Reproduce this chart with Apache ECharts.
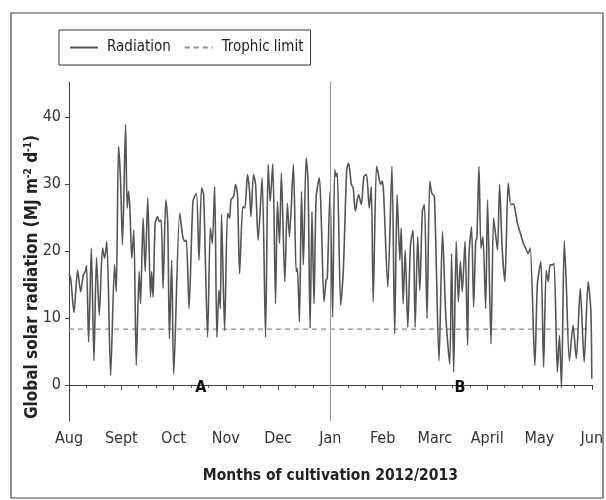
<!DOCTYPE html>
<html>
<head>
<meta charset="utf-8">
<script src="https://cdn.jsdelivr.net/npm/echarts@6/dist/echarts.min.js"></script>
<style>
  html, body { margin: 0; padding: 0; background: #fff; }
  #chart { width: 606px; height: 500px; }
</style>
</head>
<body>
<div id="chart"></div>
<script>
const months = ['Aug', 'Sept', 'Oct', 'Nov', 'Dec', 'Jan', 'Feb', 'Marc', 'April', 'May', 'Jun']
const daysPerMonth = 30.4
const lastDay = 304

// day since 1 Aug 2012 at each turning point
const days = [
  0, 1, 2.9, 5, 6.8, 8.3, 9.5, 10.2, 11.4, 13,
  14.5, 16, 17.6, 19.5, 20.7, 22, 24.2, 26.5, 27.5, 28.8,
  30, 31.1, 32.9, 33.8, 34.6, 35.4, 36.5, 37.7, 39.1, 40.8,
  41.6, 43.1, 44.3, 45.8, 47.4, 48.1, 48.9, 50.1, 51.6, 52.4,
  53.6, 54.7, 56.3, 57.4, 58.4, 59.7, 60.9, 64.4, 66.3, 67.5,
  68.3, 69.8, 72.1, 74.1, 75.6, 77.1, 78.3, 80.6, 82.2, 83.3,
  84.7, 86, 87.2, 88, 88.7, 90.5, 92.2, 93.4, 94.2, 95.7,
  96.9, 98, 99.2, 101.1, 102.3, 103.8, 105, 105.8, 107.3, 108.5,
  110, 112.3, 114.3, 115.8, 117, 118.5, 120.1, 121.2, 122.4, 123.5,
  125.5, 127, 128.2, 130.5, 132.1, 132.8, 134, 135.2, 136.3, 137.9,
  139, 140.2, 141.3, 142.5, 143.7, 145.6, 146.8, 148.3, 149.5, 150.2,
  151.8, 153.3, 154.5, 155.3, 156, 158, 159.5, 161.5, 162.6, 164.2,
  165.3, 166.5, 168.4, 170, 171.5, 173, 174.6, 175.8, 176.9, 178.8,
  179.8, 181.2, 182.2, 183, 185.4, 187.8, 189.4, 190.8, 192.4, 193.2,
  194.3, 195.5, 197, 198.6, 200.1, 201.3, 202.8, 204, 205.5, 206.7,
  208.2, 209.8, 211, 212.5, 215.2, 217.2, 219.1, 221.4, 222.5, 223.7,
  225.2, 226.4, 227.6, 228.7, 230.3, 231.8, 232.6, 234.1, 235.3, 236.5,
  237.2, 238.4, 239.6, 240.7, 242.3, 243.4, 245.4, 246.9, 248.1, 249.2,
  250.4, 251.9, 253.5, 255.4, 257, 258.5, 259.5, 260.8, 262.5, 264.3,
  265.5, 267, 268.2, 270.9, 272.4, 274.4, 276, 277.5, 278.7, 279.8,
  281, 282.1, 284, 285.2, 286.4, 288, 289.1, 291, 293.1, 295,
  297.3, 299.6, 301.9, 303.5, 304,
]

// MJ m-2 d-1
const radiation = [
  16.6, 15.8, 10.8, 17.1, 13.9, 16.4, 16.9, 17.8, 6.4, 20.4,
  3.6, 19.0, 10.4, 20.4, 18.9, 21.4, 1.4, 17.9, 13.9, 35.6,
  30.4, 20.9, 38.9, 26.4, 28.9, 26.4, 18.9, 23.1, 2.9, 16.9,
  12.1, 24.9, 16.9, 27.9, 13.1, 16.9, 13.1, 24.1, 25.1, 24.4,
  24.6, 14.4, 27.6, 24.4, 6.9, 18.6, 1.6, 25.6, 21.9, 21.4,
  21.6, 11.4, 27.4, 28.6, 18.6, 29.4, 28.4, 7.1, 23.4, 21.1,
  29.6, 7.1, 14.1, 11.4, 25.4, 8.1, 25.6, 24.9, 27.6, 28.1,
  29.9, 28.4, 16.6, 26.6, 26.4, 31.4, 28.9, 25.1, 31.4, 29.9,
  21.6, 30.9, 7.1, 32.9, 27.4, 33.0, 12.1, 27.4, 21.1, 31.6,
  15.4, 27.1, 22.1, 32.9, 16.9, 17.4, 9.4, 28.9, 17.9, 33.9,
  30.4, 8.4, 25.9, 12.1, 27.9, 30.9, 23.9, 12.4, 15.6, 15.9,
  28.9, 10.1, 32.1, 31.1, 31.6, 11.9, 16.9, 32.1, 33.1, 29.9,
  29.4, 25.9, 28.4, 26.9, 31.1, 31.4, 26.4, 29.6, 12.4, 32.6,
  31.6, 29.9, 30.4, 28.4, 14.6, 32.6, 7.6, 28.4, 18.6, 23.4,
  12.1, 20.1, 8.6, 20.9, 23.1, 8.6, 22.1, 14.1, 25.9, 26.9,
  9.9, 30.4, 28.6, 28.1, 3.6, 22.9, 10.4, 3.1, 19.6, 1.9,
  21.4, 12.4, 18.4, 13.9, 21.4, 5.9, 19.4, 23.6, 11.6, 21.4,
  21.9, 32.6, 20.4, 22.1, 11.4, 27.6, 6.1, 24.9, 22.4, 20.1,
  29.9, 20.4, 15.4, 30.1, 26.9, 27.0, 26.0, 24.1, 22.6, 21.1,
  20.4, 19.6, 20.4, 2.9, 15.1, 18.4, 2.6, 17.1, 15.4, 17.9,
  17.9, 18.1, 1.9, 7.4, -0.4, 21.5, 15.6, 3.6, 8.9, 3.9,
  14.4, 3.4, 15.4, 10.9, 0.9,
]

const trophicLimit = 8.3
const phaseSplitDay = 152
const phaseNames = ['A', 'B']
const phaseDays = [76.6, 227.4]
const phaseLabelValue = -0.4

const font = "'DejaVu Sans Condensed', 'Liberation Sans', sans-serif"

const chart = echarts.init(document.getElementById('chart'), null, { renderer: 'canvas' })

chart.setOption({
  animation: false,
  textStyle: { fontFamily: font },
  grid: { left: 69, right: 13, top: 82, bottom: 79 },
  legend: {
    left: 59,
    top: 30,
    padding: [10, 7, 10, 10],
    itemWidth: 28,
    itemHeight: 12,
    itemGap: 13,
    borderColor: '#333',
    borderWidth: 1,
    itemStyle: { opacity: 0 },
    textStyle: { fontFamily: font, fontSize: 15, color: '#222', padding: [0, 0, 0, 4] },
    data: ['Radiation', 'Trophic limit'],
  },
  xAxis: {
    type: 'value',
    min: 0,
    max: lastDay,
    interval: daysPerMonth,
    name: 'Months of cultivation 2012/2013',
    nameLocation: 'middle',
    nameGap: 47,
    nameTextStyle: { fontFamily: font, fontWeight: 'bold', fontSize: 15.5, color: '#222' },
    axisLine: { lineStyle: { color: '#444', width: 1 } },
    axisTick: { inside: false, length: 5, lineStyle: { color: '#444' } },
    minorTick: { show: true, splitNumber: 3, length: 3, lineStyle: { color: '#444' } },
    axisLabel: {
      color: '#333',
      fontSize: 16,
      margin: 10,
      formatter: (v) => months[Math.round(v / daysPerMonth)] || '',
    },
    splitLine: { show: false },
  },
  yAxis: {
    type: 'value',
    min: -5.4,
    max: 45.2,
    splitNumber: 5,
    axisLine: { show: true, lineStyle: { color: '#444', width: 1 } },
    axisTick: { show: true, length: 4, lineStyle: { color: '#444' } },
    axisLabel: {
      color: '#333',
      fontSize: 16,
      margin: 8,
      showMinLabel: false,
      showMaxLabel: false,
    },
    splitLine: { show: false },
  },
  series: [
    {
      name: 'Radiation',
      type: 'line',
      data: days.map((d, i) => [d, radiation[i]]),
      showSymbol: false,
      symbol: 'none',
      smooth: 0.25,
      lineStyle: { color: '#555', width: 1.6 },
      itemStyle: { color: '#222' },
      markLine: {
        silent: true,
        symbol: 'none',
        label: { show: false },
        lineStyle: { color: '#999', type: 'solid', width: 1 },
        data: [{ xAxis: phaseSplitDay }],
      },
      z: 3,
    },
    {
      name: 'Trophic limit',
      type: 'line',
      data: [[0, trophicLimit], [lastDay, trophicLimit]],
      showSymbol: false,
      symbol: 'none',
      lineStyle: { color: '#8c8c8c', width: 1.2, type: [5, 4] },
      itemStyle: { color: '#8c8c8c' },
      z: 2,
    },
    {
      name: 'phases',
      type: 'scatter',
      symbolSize: 0,
      itemStyle: { opacity: 1 },
      data: phaseDays.map((d, i) => ({ value: [d, phaseLabelValue], name: phaseNames[i] })),
      label: {
        show: true,
        position: 'inside',
        formatter: (p) => p.name,
        fontFamily: font,
        fontWeight: 'bold',
        fontSize: 16,
        color: '#111',
        opacity: 1,
      },
      silent: true,
    },
  ],
  graphic: [
    {
      type: 'rect',
      shape: { x: 11, y: 13, width: 592, height: 485 },
      style: { fill: 'none', stroke: '#444', lineWidth: 1.2 },
      silent: true,
    },
    {
      type: 'text',
      x: 33,
      y: 277,
      rotation: Math.PI / 2,
      style: {
        text: '{t|Global solar radiation (MJ m}{s|-2}{t| d}{s|-1}{t|)}',
        align: 'center',
        verticalAlign: 'middle',
        rich: {
          t: { fontFamily: font, fontWeight: 'bold', fontSize: 17, fill: '#222', lineHeight: 19 },
          s: { fontFamily: font, fontWeight: 'bold', fontSize: 10, fill: '#222', verticalAlign: 'top', lineHeight: 19 },
        },
      },
      silent: true,
    },
  ],
})
</script>
</body>
</html>
